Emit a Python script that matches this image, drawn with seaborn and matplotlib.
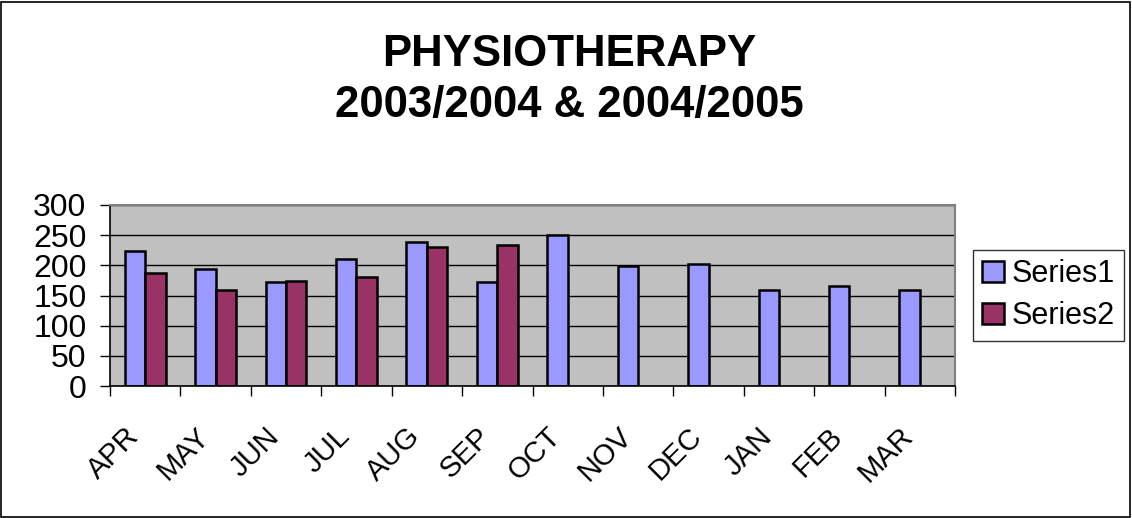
import numpy as np
import pandas as pd
import matplotlib
matplotlib.use('Agg')
import matplotlib.pyplot as plt
import matplotlib.transforms as mtransforms
import seaborn as sns
from matplotlib.patches import Rectangle
from matplotlib.ticker import MultipleLocator, FixedLocator

# Datos
months = ['APR', 'MAY', 'JUN', 'JUL', 'AUG', 'SEP', 'OCT', 'NOV', 'DEC', 'JAN', 'FEB', 'MAR']
series1 = [223, 194, 172, 210, 239, 173, 251, 199, 203, 159, 165, 159]
series2 = [188, 159, 174, 180, 230, 233, np.nan, np.nan, np.nan, np.nan, np.nan, np.nan]
series_names = ['Series1', 'Series2']
colors = ['#9999FF', '#993366']

df = pd.DataFrame({
    'month': months * 2,
    'value': series1 + series2,
    'series': [series_names[0]] * len(months) + [series_names[1]] * len(months),
})

sns.set_style('white')
plt.rcParams['font.family'] = ['Liberation Sans', 'DejaVu Sans']
plt.rcParams['text.color'] = 'black'
plt.rcParams['xtick.color'] = 'black'
plt.rcParams['ytick.color'] = 'black'

fig = plt.figure(figsize=(11.32, 5.18), dpi=100)
ax = fig.add_axes([110 / 1132, 1 - 386 / 518, 845 / 1132, 181 / 518])
ax.set_facecolor('#C0C0C0')

sns.barplot(data=df, x='month', y='value', hue='series', order=months,
            hue_order=series_names, palette=colors, width=0.58,
            edgecolor='black', linewidth=1.8, errorbar=None, ax=ax,
            saturation=1)

ax.set_ylim(0, 300)
ax.set_xlim(-0.5, len(months) - 0.5)
ax.yaxis.set_major_locator(MultipleLocator(50))
ax.grid(axis='y', color='black', linewidth=1)
ax.set_axisbelow(True)
ax.set_xlabel('')
ax.set_ylabel('')

# Ticks de categoría entre barras (estilo Excel)
ax.xaxis.set_minor_locator(FixedLocator(np.arange(-0.5, len(months), 1)))
ax.tick_params(axis='x', which='major', length=0, labelsize=21, pad=26)
ax.tick_params(axis='x', which='minor', length=7, width=1, color='black', direction='out', bottom=True)
ax.tick_params(axis='y', length=7, width=1, color='black', direction='out', left=True, labelsize=23, pad=10)
shift = mtransforms.ScaledTranslation(-15 / 72, 0, fig.dpi_scale_trans)
for lbl in ax.get_xticklabels():
    lbl.set_rotation(45)
    lbl.set_ha('right')
    lbl.set_rotation_mode('anchor')
    lbl.set_transform(lbl.get_transform() + shift)

for side in ['top', 'right']:
    ax.spines[side].set_color('#808080')
    ax.spines[side].set_linewidth(1.5)
for side in ['left', 'bottom']:
    ax.spines[side].set_color('black')
    ax.spines[side].set_linewidth(1.2)

# Leyenda
handles, labels = ax.get_legend_handles_labels()
leg = ax.legend(handles, labels, loc='upper left', bbox_to_anchor=(973 / 1132, 1 - 250 / 518),
                bbox_transform=fig.transFigure, frameon=True, fancybox=False,
                edgecolor='black', fontsize=22, handlelength=0.7, handleheight=0.7,
                handletextpad=0.25, borderpad=0.3, labelspacing=0.4, borderaxespad=0)
leg.get_frame().set_linewidth(1)

# Título
fig.text(0.503, 1 - 80 / 518, 'PHYSIOTHERAPY\n2003/2004 & 2004/2005', ha='center', va='center',
         fontsize=31.5, fontweight='bold', linespacing=1.33)

# Borde de la figura
fig.patches.append(Rectangle((0.001, 0.002), 0.997, 0.995, transform=fig.transFigure,
                             fill=False, edgecolor='black', linewidth=1.2))

fig.savefig('out.png', dpi=100)
